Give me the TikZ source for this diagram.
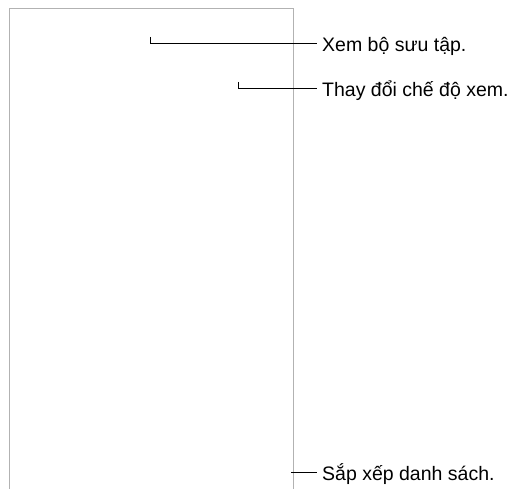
\documentclass[tikz,border=0pt]{standalone}
\usepackage{fontspec}
\setmainfont{Liberation Sans}
\begin{document}
\begin{tikzpicture}[x=1pt,y=-1pt,
  frame/.style={draw=black!30,line width=1pt},
  callout/.style={draw=black,line width=0.8pt},
  label/.style={anchor=base west,inner sep=0pt,font=\fontsize{19.5}{23}\selectfont}]
\useasboundingbox (0,0) rectangle (515,489);
\draw[frame] (9.5,495) -- (9.5,8.5) -- (293,8.5) -- (293,495);
\node[label] (t1) at (322,52) {Xem bộ sưu tập.};
\node[label] (t2) at (322,97) {Thay đổi chế độ xem.};
\node[label] (t3) at (322,481) {Sắp xếp danh sách.};
\coordinate (s1) at (150.7,43);
\coordinate (s2) at (238,88);
\coordinate (s3) at (291,472);
\coordinate (e1) at (s1 -| t1.west);
\coordinate (e2) at (s2 -| t2.west);
\coordinate (e3) at (s3 -| t3.west);
\draw[callout] ([yshift=6]s1) -- (s1) -- ([xshift=-5]e1);
\draw[callout] ([yshift=6]s2) -- (s2) -- ([xshift=-5]e2);
\draw[callout] (s3) -- ([xshift=-5]e3);
\end{tikzpicture}
\end{document}
